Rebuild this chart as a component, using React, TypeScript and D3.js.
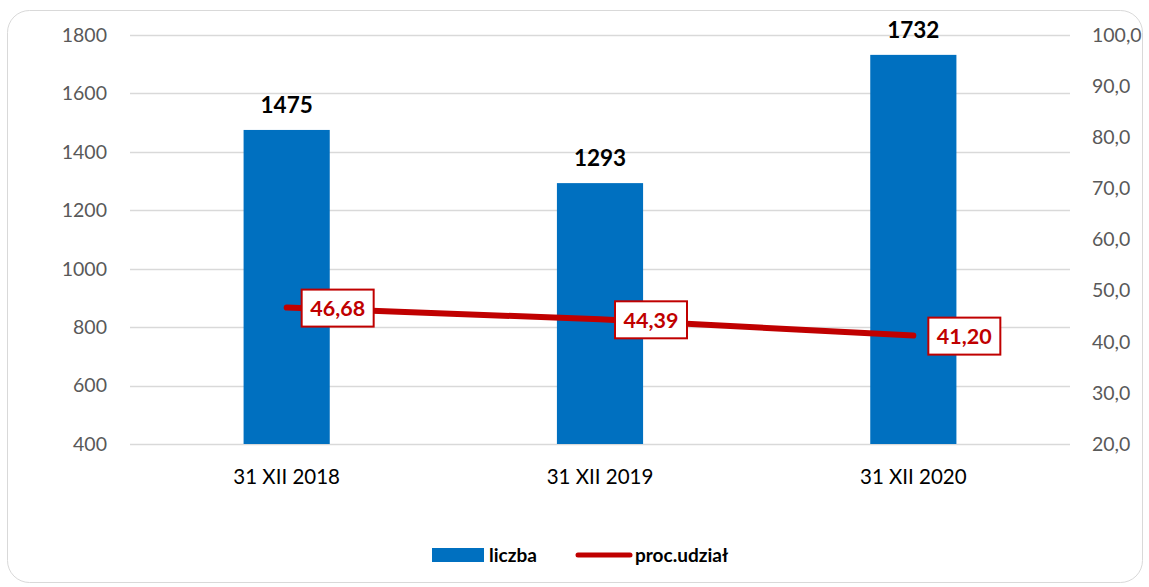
import React, { useEffect, useRef } from 'react';
import * as d3 from 'd3';

const categories: string[] = ['31 XII 2018', '31 XII 2019', '31 XII 2020'];
const counts: number[] = [1475, 1293, 1732];
const shares: number[] = [46.68, 44.39, 41.2];
const leftTicks: number[] = [400, 600, 800, 1000, 1200, 1400, 1600, 1800];
const rightTicks: number[] = [20, 30, 40, 50, 60, 70, 80, 90, 100];

const FONT = 'Lato, "Noto Sans", sans-serif';

const App: React.FC = () => {
  const svgRef = useRef<SVGSVGElement>(null);

  useEffect(() => {
    if (!svgRef.current) return;
    const W = 1149;
    const H = 587;
    const margin = { top: 35, right: 79, bottom: 143, left: 130 };
    const width = W - margin.left - margin.right;
    const height = H - margin.top - margin.bottom;

    const root = d3.select(svgRef.current);
    root.selectAll('*').remove();
    root.attr('width', W).attr('height', H);

    // frame
    root
      .append('rect')
      .attr('x', 7.5)
      .attr('y', 10.5)
      .attr('width', 1135)
      .attr('height', 572)
      .attr('rx', 22)
      .attr('fill', '#fff')
      .attr('stroke', '#d9d9d9')
      .attr('stroke-width', 1);

    const svg = root.append('g').attr('transform', `translate(${margin.left},${margin.top})`);

    const x = d3.scaleBand<string>().domain(categories).range([0, width]).padding(0);
    const yL = d3.scaleLinear().domain([400, 1800]).range([height, 0]);
    const yR = d3.scaleLinear().domain([20, 100]).range([height, 0]);
    const barW = x.bandwidth() * 0.275;
    const cx = (c: string) => (x(c) ?? 0) + x.bandwidth() / 2;

    // gridlines
    svg
      .selectAll('line.grid')
      .data(leftTicks)
      .enter()
      .append('line')
      .attr('x1', 0)
      .attr('x2', width)
      .attr('y1', (d) => Math.round(yL(d)) + 0.5)
      .attr('y2', (d) => Math.round(yL(d)) + 0.5)
      .attr('stroke', '#d9d9d9')
      .attr('stroke-width', 1.5);

    // left axis labels
    svg
      .selectAll('text.yl')
      .data(leftTicks)
      .enter()
      .append('text')
      .attr('x', -23)
      .attr('y', (d) => yL(d))
      .attr('dy', '0.35em')
      .attr('text-anchor', 'end')
      .attr('font-family', FONT)
      .attr('font-size', 19.5)
      .attr('fill', '#595959')
      .text((d) => d);

    // right axis labels
    svg
      .selectAll('text.yr')
      .data(rightTicks)
      .enter()
      .append('text')
      .attr('x', width + 22)
      .attr('y', (d) => yR(d))
      .attr('dy', '0.35em')
      .attr('text-anchor', 'start')
      .attr('font-family', FONT)
      .attr('font-size', 19.5)
      .attr('fill', '#595959')
      .text((d) => d.toFixed(1).replace('.', ','));

    // x labels
    svg
      .selectAll('text.xl')
      .data(categories)
      .enter()
      .append('text')
      .attr('x', (d) => cx(d))
      .attr('y', height + 33)
      .attr('dy', '0.35em')
      .attr('text-anchor', 'middle')
      .attr('font-family', FONT)
      .attr('font-size', 20.5)
      .attr('fill', '#000')
      .text((d) => d);

    // bars
    svg
      .selectAll('rect.bar')
      .data(counts)
      .enter()
      .append('rect')
      .attr('x', (_d, i) => cx(categories[i]) - barW / 2)
      .attr('y', (d) => yL(d))
      .attr('width', barW)
      .attr('height', (d) => height - yL(d))
      .attr('fill', '#0070C0');

    svg
      .selectAll('text.barlabel')
      .data(counts)
      .enter()
      .append('text')
      .attr('x', (_d, i) => cx(categories[i]))
      .attr('y', (d) => yL(d) - 17)
      .attr('text-anchor', 'middle')
      .attr('font-family', FONT)
      .attr('font-weight', 'bold')
      .attr('font-size', 22.5)
      .attr('fill', '#000')
      .text((d) => d);

    // line
    const line = d3
      .line<number>()
      .x((_d, i) => cx(categories[i]))
      .y((d) => yR(d));
    svg
      .append('path')
      .datum(shares)
      .attr('d', line)
      .attr('fill', 'none')
      .attr('stroke', '#C00000')
      .attr('stroke-width', 6)
      .attr('stroke-linecap', 'round');

    const labels = svg
      .selectAll('g.share')
      .data(shares)
      .enter()
      .append('g')
      .attr('transform', (d, i) => `translate(${cx(categories[i]) + 15},${yR(d)})`);
    labels
      .append('rect')
      .attr('x', 0)
      .attr('y', -18)
      .attr('width', 72)
      .attr('height', 37)
      .attr('fill', '#fff')
      .attr('stroke', '#C00000')
      .attr('stroke-width', 2);
    labels
      .append('text')
      .attr('x', 36)
      .attr('y', 1)
      .attr('dy', '0.35em')
      .attr('text-anchor', 'middle')
      .attr('font-family', FONT)
      .attr('font-weight', 'bold')
      .attr('font-size', 21.5)
      .attr('fill', '#C00000')
      .text((d) => d.toFixed(2).replace('.', ','));

    // legend
    const lg = root.append('g');
    lg.append('rect')
      .attr('x', 432)
      .attr('y', 548)
      .attr('width', 52)
      .attr('height', 14)
      .attr('fill', '#0070C0');
    lg.append('text')
      .attr('x', 489)
      .attr('y', 555)
      .attr('dy', '0.35em')
      .attr('font-family', FONT)
      .attr('font-weight', 'bold')
      .attr('font-size', 19)
      .attr('fill', '#000')
      .text('liczba');
    lg.append('line')
      .attr('x1', 578)
      .attr('x2', 630)
      .attr('y1', 555)
      .attr('y2', 555)
      .attr('stroke', '#C00000')
      .attr('stroke-width', 5)
      .attr('stroke-linecap', 'round');
    lg.append('text')
      .attr('x', 635)
      .attr('y', 555)
      .attr('dy', '0.35em')
      .attr('font-family', FONT)
      .attr('font-weight', 'bold')
      .attr('font-size', 19)
      .attr('fill', '#000')
      .text('proc.udział');
  }, []);

  return <svg ref={svgRef} style={{ position: 'absolute', left: 0, top: 0 }}></svg>;
};

export default App;
